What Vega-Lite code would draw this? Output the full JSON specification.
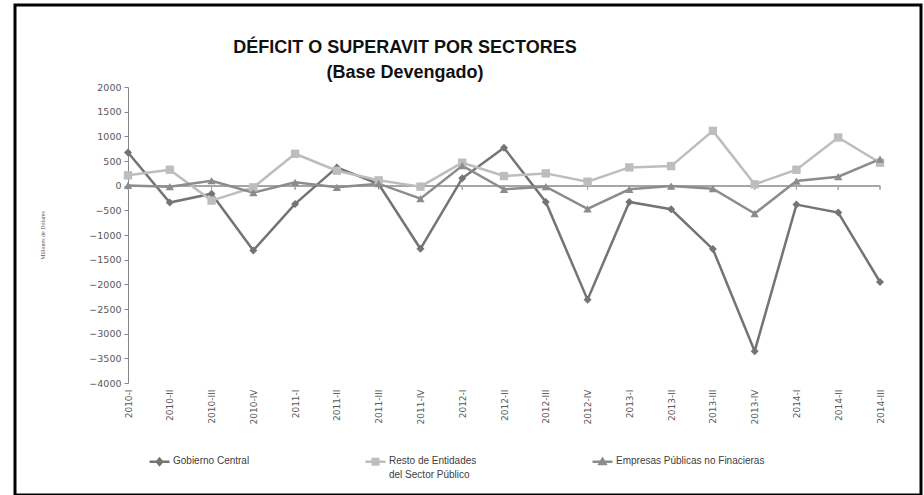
{
  "$schema": "https://vega.github.io/schema/vega-lite/v6.json",
  "width": 906,
  "height": 490,
  "autosize": "none",
  "padding": {"left": 15, "top": 5, "right": 3, "bottom": 0},
  "background": "white",
  "title": {
    "text": ["DÉFICIT O SUPERAVIT POR SECTORES", "(Base Devengado)"],
    "anchor": "middle",
    "frame": "group",
    "dx": -63,
    "offset": -95,
    "baseline": "bottom",
    "font": "Liberation Sans",
    "fontSize": 18,
    "fontWeight": "bold",
    "color": "#111111",
    "lineHeight": 25
  },
  "config": {
    "view": {"stroke": "#000000", "strokeWidth": 3},
    "font": "Liberation Sans"
  },
  "data": {
    "values": [
      {"periodo": "2010-I", "serie": "Gobierno Central", "valor": 673},
      {"periodo": "2010-II", "serie": "Gobierno Central", "valor": -343},
      {"periodo": "2010-III", "serie": "Gobierno Central", "valor": -162},
      {"periodo": "2010-IV", "serie": "Gobierno Central", "valor": -1313},
      {"periodo": "2011-I", "serie": "Gobierno Central", "valor": -370},
      {"periodo": "2011-II", "serie": "Gobierno Central", "valor": 370},
      {"periodo": "2011-III", "serie": "Gobierno Central", "valor": 34},
      {"periodo": "2011-IV", "serie": "Gobierno Central", "valor": -1279},
      {"periodo": "2012-I", "serie": "Gobierno Central", "valor": 148},
      {"periodo": "2012-II", "serie": "Gobierno Central", "valor": 768},
      {"periodo": "2012-III", "serie": "Gobierno Central", "valor": -330},
      {"periodo": "2012-IV", "serie": "Gobierno Central", "valor": -2310},
      {"periodo": "2013-I", "serie": "Gobierno Central", "valor": -330},
      {"periodo": "2013-II", "serie": "Gobierno Central", "valor": -478},
      {"periodo": "2013-III", "serie": "Gobierno Central", "valor": -1286},
      {"periodo": "2013-IV", "serie": "Gobierno Central", "valor": -3354},
      {"periodo": "2014-I", "serie": "Gobierno Central", "valor": -384},
      {"periodo": "2014-II", "serie": "Gobierno Central", "valor": -545},
      {"periodo": "2014-III", "serie": "Gobierno Central", "valor": -1953},
      {"periodo": "2010-I", "serie": "Resto de Entidades del Sector Público", "valor": 209},
      {"periodo": "2010-II", "serie": "Resto de Entidades del Sector Público", "valor": 323},
      {"periodo": "2010-III", "serie": "Resto de Entidades del Sector Público", "valor": -303},
      {"periodo": "2010-IV", "serie": "Resto de Entidades del Sector Público", "valor": -34},
      {"periodo": "2011-I", "serie": "Resto de Entidades del Sector Público", "valor": 646},
      {"periodo": "2011-II", "serie": "Resto de Entidades del Sector Público", "valor": 303},
      {"periodo": "2011-III", "serie": "Resto de Entidades del Sector Público", "valor": 108},
      {"periodo": "2011-IV", "serie": "Resto de Entidades del Sector Público", "valor": -20},
      {"periodo": "2012-I", "serie": "Resto de Entidades del Sector Público", "valor": 465},
      {"periodo": "2012-II", "serie": "Resto de Entidades del Sector Público", "valor": 195},
      {"periodo": "2012-III", "serie": "Resto de Entidades del Sector Público", "valor": 249},
      {"periodo": "2012-IV", "serie": "Resto de Entidades del Sector Público", "valor": 81},
      {"periodo": "2013-I", "serie": "Resto de Entidades del Sector Público", "valor": 370},
      {"periodo": "2013-II", "serie": "Resto de Entidades del Sector Público", "valor": 397},
      {"periodo": "2013-III", "serie": "Resto de Entidades del Sector Público", "valor": 1111},
      {"periodo": "2013-IV", "serie": "Resto de Entidades del Sector Público", "valor": 27},
      {"periodo": "2014-I", "serie": "Resto de Entidades del Sector Público", "valor": 323},
      {"periodo": "2014-II", "serie": "Resto de Entidades del Sector Público", "valor": 976},
      {"periodo": "2014-III", "serie": "Resto de Entidades del Sector Público", "valor": 465},
      {"periodo": "2010-I", "serie": "Empresas Públicas no Finacieras", "valor": 5},
      {"periodo": "2010-II", "serie": "Empresas Públicas no Finacieras", "valor": -20},
      {"periodo": "2010-III", "serie": "Empresas Públicas no Finacieras", "valor": 101},
      {"periodo": "2010-IV", "serie": "Empresas Públicas no Finacieras", "valor": -141},
      {"periodo": "2011-I", "serie": "Empresas Públicas no Finacieras", "valor": 67},
      {"periodo": "2011-II", "serie": "Empresas Públicas no Finacieras", "valor": -34},
      {"periodo": "2011-III", "serie": "Empresas Públicas no Finacieras", "valor": 40},
      {"periodo": "2011-IV", "serie": "Empresas Públicas no Finacieras", "valor": -263},
      {"periodo": "2012-I", "serie": "Empresas Públicas no Finacieras", "valor": 404},
      {"periodo": "2012-II", "serie": "Empresas Públicas no Finacieras", "valor": -74},
      {"periodo": "2012-III", "serie": "Empresas Públicas no Finacieras", "valor": -20},
      {"periodo": "2012-IV", "serie": "Empresas Públicas no Finacieras", "valor": -471},
      {"periodo": "2013-I", "serie": "Empresas Públicas no Finacieras", "valor": -74},
      {"periodo": "2013-II", "serie": "Empresas Públicas no Finacieras", "valor": -7},
      {"periodo": "2013-III", "serie": "Empresas Públicas no Finacieras", "valor": -61},
      {"periodo": "2013-IV", "serie": "Empresas Públicas no Finacieras", "valor": -566},
      {"periodo": "2014-I", "serie": "Empresas Públicas no Finacieras", "valor": 94},
      {"periodo": "2014-II", "serie": "Empresas Públicas no Finacieras", "valor": 182},
      {"periodo": "2014-III", "serie": "Empresas Públicas no Finacieras", "valor": 539}
    ]
  },
  "encoding": {
    "x": {
      "field": "periodo",
      "type": "ordinal",
      "sort": null,
      "scale": {"type": "point", "padding": 0, "range": [113, 865]},
      "axis": {
        "orient": "bottom",
        "offset": -112,
        "title": null,
        "domain": false,
        "ticks": false,
        "labelAngle": -90,
        "labelPadding": 6,
        "labelFont": "DejaVu Sans",
        "labelFontSize": 9,
        "labelColor": "#595959"
      }
    }
  },
  "layer": [
    {
      "mark": {"type": "rule", "color": "#a6a6a6", "strokeWidth": 1},
      "encoding": {
        "y": {"datum": 0},
        "y2": {"datum": -80}
      }
    },
    {
      "mark": {"type": "rule", "color": "#a6a6a6", "strokeWidth": 1},
      "encoding": {
        "x": {"datum": "2010-I"},
        "x2": {"datum": "2014-III"},
        "y": {"datum": 0}
      }
    },
    {
      "mark": {"type": "line", "strokeWidth": 2.5},
      "encoding": {
        "y": {
          "field": "valor",
          "type": "quantitative",
          "scale": {"domain": [-4000, 2000], "nice": false, "zero": false, "range": [378, 82]},
          "axis": {
            "orient": "left",
            "offset": -113,
            "values": [-4000, -3500, -3000, -2500, -2000, -1500, -1000, -500, 0, 500, 1000, 1500, 2000],
            "format": "d",
            "grid": false,
            "domainColor": "#868686",
            "tickColor": "#868686",
            "tickSize": 4,
            "labelPadding": 3,
            "labelFont": "DejaVu Sans",
            "labelFontSize": 9.5,
            "labelColor": "#595959",
            "title": "Millones de Dólares",
            "titleFont": "Liberation Sans Narrow",
            "titleFontSize": 6,
            "titleFontWeight": "normal",
            "titleColor": "#595959",
            "titleX": -86,
            "titleY": 230,
            "titleAngle": -90,
            "titleAlign": "center",
            "titleBaseline": "middle"
          }
        },
        "color": {
          "field": "serie",
          "type": "nominal",
          "scale": {
            "domain": ["Gobierno Central", "Resto de Entidades del Sector Público", "Empresas Públicas no Finacieras"],
            "range": ["#747474", "#bdbdbd", "#8c8c8c"]
          },
          "legend": {
            "title": null,
            "orient": "none",
            "legendX": 133,
            "legendY": 445,
            "direction": "horizontal",
            "columns": 3,
            "columnPadding": 110,
            "labelFont": "Liberation Sans",
            "labelFontSize": 10,
            "labelColor": "#404040",
            "labelOffset": 2,
            "labelBaseline": "top",
            "labelExpr": "datum.label == 'Resto de Entidades del Sector Público' ? ['Resto de Entidades', 'del Sector Público'] : [datum.label, ' ']",
            "symbolSize": 400,
            "symbolStrokeWidth": 2.5,
            "encode": {
              "labels": {
                "update": {
                  "dy": {"value": -6},
                  "lineHeight": {"value": 14}
                }
              },
              "symbols": {
                "update": {
                  "shape": {"signal": "datum.value == 'Gobierno Central' ? 'M-1,0H1M0,-0.3L0.26,0L0,0.3L-0.26,0Z' : datum.value == 'Empresas Públicas no Finacieras' ? 'M-1,0H1M0,-0.28L0.3,0.22H-0.3Z' : 'M-1,0H1M-0.28,-0.28H0.28V0.28H-0.28Z'"},
                  "fill": {"scale": "color", "field": "value"},
                  "stroke": {"scale": "color", "field": "value"},
                  "strokeWidth": {"value": 2.5},
                  "opacity": {"value": 1}
                }
              }
            }
          }
        }
      }
    },
    {
      "transform": [{"filter": "datum.serie == 'Gobierno Central'"}],
      "mark": {"type": "point", "filled": true, "opacity": 1, "shape": "diamond", "size": 64},
      "encoding": {
        "y": {"field": "valor", "type": "quantitative"},
        "color": {"field": "serie", "type": "nominal"}
      }
    },
    {
      "transform": [{"filter": "datum.serie == 'Resto de Entidades del Sector Público'"}],
      "mark": {"type": "point", "filled": true, "opacity": 1, "shape": "square", "size": 70},
      "encoding": {
        "y": {"field": "valor", "type": "quantitative"},
        "color": {"field": "serie", "type": "nominal"}
      }
    },
    {
      "transform": [{"filter": "datum.serie == 'Empresas Públicas no Finacieras'"}],
      "mark": {"type": "point", "filled": true, "opacity": 1, "shape": "triangle-up", "size": 70},
      "encoding": {
        "y": {"field": "valor", "type": "quantitative"},
        "color": {"field": "serie", "type": "nominal"}
      }
    }
  ]
}
